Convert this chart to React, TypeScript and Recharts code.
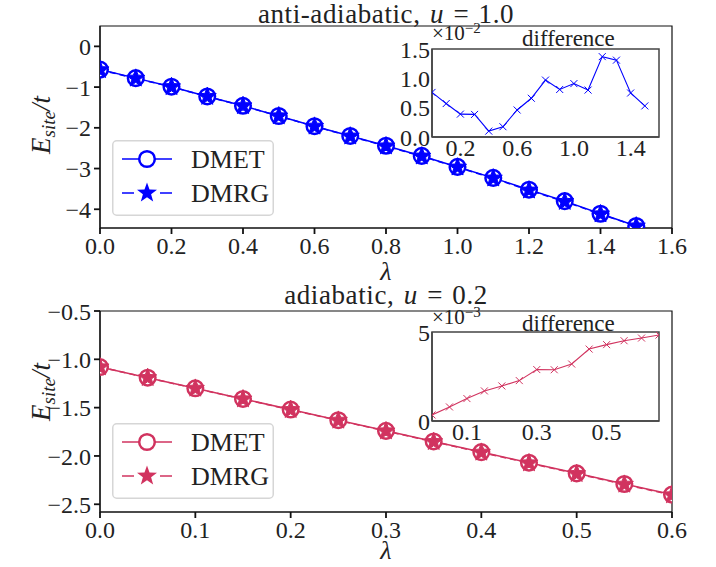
import React from "react";
import { LineChart, Line, XAxis, YAxis, Legend, ReferenceArea } from "recharts";

const FONT = "Liberation Serif, DejaVu Serif, serif";
const TXT = "#222";
const BLUE = "#0000ff";
const ROSE = "#d1335f";

// anti-adiabatic, u = 1.0
const lambdaAnti = [0, 0.1, 0.2, 0.3, 0.4, 0.5, 0.6, 0.7, 0.8, 0.9, 1.0, 1.1, 1.2, 1.3, 1.4, 1.5];
const dmetAnti = [-0.57, -0.78, -0.99, -1.23, -1.46, -1.71, -1.96, -2.2, -2.44, -2.69, -2.96, -3.23, -3.52, -3.8, -4.11, -4.41];
const dmrgAnti = [-0.578, -0.786, -0.994, -1.234, -1.461, -1.712, -1.965, -2.207, -2.45, -2.698, -2.969, -3.238, -3.534, -3.813, -4.118, -4.415];
const diffAnti = [0.76, 0.57, 0.39, 0.385, 0.1, 0.175, 0.46, 0.66, 0.97, 0.81, 0.91, 0.8, 1.37, 1.31, 0.75, 0.53]; // x1e-2

// adiabatic, u = 0.2
const lambdaAdia = [0, 0.05, 0.1, 0.15, 0.2, 0.25, 0.3, 0.35, 0.4, 0.45, 0.5, 0.55, 0.6, 0.65];
const dmetAdia = [-1.08, -1.19, -1.3, -1.41, -1.52, -1.63, -1.74, -1.85, -1.96, -2.07, -2.18, -2.29, -2.4, -2.51];
const dmrgAdia = [-1.0803, -1.1908, -1.3013, -1.4117, -1.522, -1.6323, -1.7429, -1.8529, -1.9632, -2.074, -2.1843, -2.2945, -2.4047, -2.5148];
const diffAdia = [0.34, 0.79, 1.26, 1.69, 1.97, 2.27, 2.89, 2.88, 3.2, 4.04, 4.29, 4.51, 4.66, 4.83]; // x1e-3

const xTicksAnti = [0, 0.2, 0.4, 0.6, 0.8, 1.0, 1.2, 1.4, 1.6];
const yTicksAnti = [0, -1, -2, -3, -4];
const xTicksAdia = [0, 0.1, 0.2, 0.3, 0.4, 0.5, 0.6];
const yTicksAdia = [-0.5, -1.0, -1.5, -2.0, -2.5];
const insetXTicksAnti = [0.2, 0.6, 1.0, 1.4];
const insetYTicksAnti = [0, 0.5, 1.0, 1.5];
const insetXTicksAdia = [0.1, 0.3, 0.5];
const insetYTicksAdia = [0, 5];

const rowsAnti = lambdaAnti.map((lam, i) => ({ lam, dmet: dmetAnti[i], dmrg: dmrgAnti[i], diff: diffAnti[i] }));
const rowsAdia = lambdaAdia.map((lam, i) => ({ lam, dmet: dmetAdia[i], dmrg: dmrgAdia[i], diff: diffAdia[i] }));

const minus = (s: string) => s.replace("-", "\u2212");
const fix1 = (v: number) => minus(v.toFixed(1));
const fix0 = (v: number) => minus(v.toFixed(0));

// tick label renderers (serif text, matplotlib-like)
const xTick = (fmt: (v: number) => string) => (p: any) => (
  <text x={p.x} y={p.y} dy="0.71em" textAnchor="middle" fontFamily={FONT} fontSize={24} fill={TXT}>
    {fmt(p.payload.value)}
  </text>
);
const yTick = (fmt: (v: number) => string) => (p: any) => (
  <text x={p.x} y={p.y} dy="0.36em" textAnchor="end" fontFamily={FONT} fontSize={24} fill={TXT}>
    {fmt(p.payload.value)}
  </text>
);

function starPoints(cx: number, cy: number, ro: number, ri: number) {
  const pts: string[] = [];
  for (let k = 0; k < 10; k++) {
    const r = k % 2 === 0 ? ro : ri;
    const a = -Math.PI / 2 + (k * Math.PI) / 5;
    pts.push(`${cx + r * Math.cos(a)},${cy + r * Math.sin(a)}`);
  }
  return pts.join(" ");
}

function StarDot(props: any) {
  const { cx, cy, stroke } = props;
  if (cx == null || cy == null) return null;
  return <polygon points={starPoints(cx, cy, 9.5, 4)} fill={stroke} stroke={stroke} strokeWidth={1} />;
}

function CrossDot(props: any) {
  const { cx, cy, stroke } = props;
  if (cx == null || cy == null) return null;
  const s = 3.5;
  return (
    <g stroke={stroke} strokeWidth={1}>
      <line x1={cx - s} y1={cy - s} x2={cx + s} y2={cy + s} />
      <line x1={cx - s} y1={cy + s} x2={cx + s} y2={cy - s} />
    </g>
  );
}

function LegendBox(props: any) {
  const { payload } = props;
  return (
    <svg width={162} height={76} style={{ display: "block" }}>
      <rect x={0.75} y={0.75} width={160.5} height={74.5} rx={4} fill="#fff" fillOpacity={0.85} stroke="#d6d6d6" strokeWidth={1.5} />
      {(payload || []).map((entry: any, i: number) => {
        const c = entry.color;
        const y = i === 0 ? 19 : 53;
        return (
          <g key={entry.value}>
            {i === 0 ? (
              <g>
                <line x1={10} y1={y} x2={60} y2={y} stroke={c} strokeWidth={1.5} />
                <circle cx={35} cy={y} r={7.8} fill="#fff" stroke={c} strokeWidth={2.5} />
              </g>
            ) : (
              <g>
                <line x1={10} y1={y} x2={22} y2={y} stroke={c} strokeWidth={1.5} />
                <line x1={48} y1={y} x2={60} y2={y} stroke={c} strokeWidth={1.5} />
                <polygon points={starPoints(35, y, 10.5, 4.3)} fill={c} />
              </g>
            )}
            <text x={79} y={y} dy="0.35em" fontFamily={FONT} fontSize={26} fill={TXT}>
              {entry.value}
            </text>
          </g>
        );
      })}
    </svg>
  );
}

const spine = { stroke: "#111", strokeWidth: 1.2 };
const tickLn = { stroke: "#111", strokeWidth: 1.8 };

function MainPanel(props: any) {
  const { rows, color, top, height, marginTop, xDomain, xTicks, yDomain, yTicks, yFmt, legendTop } = props;
  return (
    <div style={{ position: "absolute", left: 0, top }}>
      <LineChart width={716} height={height} data={rows} margin={{ top: marginTop, right: 44, bottom: 0, left: 0 }}>
        <XAxis
          dataKey="lam"
          type="number"
          domain={xDomain}
          ticks={xTicks}
          allowDataOverflow
          height={34}
          tickSize={6}
          tickMargin={3}
          tick={xTick(fix1)}
          axisLine={spine}
          tickLine={tickLn}
          interval={0}
        />
        <YAxis
          type="number"
          domain={yDomain}
          ticks={yTicks}
          allowDataOverflow
          width={100}
          tickSize={6}
          tickMargin={3}
          tick={yTick(yFmt)}
          axisLine={spine}
          tickLine={tickLn}
          interval={0}
        />
        <ReferenceArea
          x1={xDomain[0]}
          x2={xDomain[1]}
          y1={yDomain[0]}
          y2={yDomain[1]}
          ifOverflow="visible"
          fill="none"
          stroke="#111"
          strokeWidth={1.2}
        />
        <Line
          name="DMET"
          dataKey="dmet"
          stroke={color}
          strokeWidth={1.5}
          isAnimationActive={false}
          dot={{ r: 7.8, fill: "#fff", stroke: color, strokeWidth: 2.5 }}
        />
        <Line
          name="DMRG"
          dataKey="dmrg"
          stroke={color}
          strokeWidth={1.5}
          strokeDasharray="6 4"
          isAnimationActive={false}
          dot={(p: any) => <StarDot key={p.index} {...p} />}
        />
        <Legend
          layout="horizontal"
          verticalAlign="middle"
          align="center"
          content={<LegendBox />}
          wrapperStyle={{ left: 112, top: legendTop, width: 162, height: 76 }}
        />
      </LineChart>
    </div>
  );
}

const insetSpine = { stroke: "#444", strokeWidth: 1.5 };

function InsetPanel(props: any) {
  const { rows, color, top, height, marginTop, xDomain, xTicks, yDomain, yTicks, yFmt } = props;
  return (
    <div style={{ position: "absolute", left: 380, top }}>
      <LineChart width={290} height={height} data={rows} margin={{ top: marginTop, right: 11, bottom: 0, left: 0 }}>
        <XAxis
          dataKey="lam"
          type="number"
          domain={xDomain}
          ticks={xTicks}
          allowDataOverflow
          height={25}
          tickSize={0}
          tickMargin={2}
          tick={xTick(fix1)}
          axisLine={insetSpine}
          tickLine={false}
          interval={0}
        />
        <YAxis
          type="number"
          domain={yDomain}
          ticks={yTicks}
          allowDataOverflow
          width={52}
          tickSize={0}
          tickMargin={2}
          tick={yTick(yFmt)}
          axisLine={insetSpine}
          tickLine={false}
          interval={0}
        />
        <ReferenceArea
          x1={xDomain[0]}
          x2={xDomain[1]}
          y1={yDomain[0]}
          y2={yDomain[1]}
          ifOverflow="visible"
          fill="none"
          stroke="#444"
          strokeWidth={1.5}
        />
        <Line
          dataKey="diff"
          stroke={color}
          strokeWidth={1.1}
          isAnimationActive={false}
          dot={(p: any) => <CrossDot key={p.index} {...p} />}
        />
      </LineChart>
    </div>
  );
}

function Texts() {
  return (
    <svg width={716} height={567} style={{ position: "absolute", left: 0, top: 0, pointerEvents: "none" }} fontFamily={FONT} fill={TXT}>
      <text x={386} y={23} fontSize={27} textAnchor="middle" letterSpacing={0.6} wordSpacing={2}>
        {"anti-adiabatic, "}
        <tspan fontStyle="italic">u</tspan>
        {" = 1.0"}
      </text>
      <text x={386} y={304} fontSize={27} textAnchor="middle" letterSpacing={0.6} wordSpacing={2}>
        {"adiabatic, "}
        <tspan fontStyle="italic">u</tspan>
        {" = 0.2"}
      </text>
      {[125, 392].map((cy) => (
        <text key={cy} transform={`translate(50,${cy}) rotate(-90)`} fontSize={27} textAnchor="middle" fontStyle="italic">
          <tspan>E</tspan>
          <tspan fontSize={19} dy={5}>site</tspan>
          <tspan dy={-5}>/t</tspan>
        </text>
      ))}
      <text x={386} y={280} fontSize={26} textAnchor="middle" fontStyle="italic">λ</text>
      <text x={386} y={559} fontSize={26} textAnchor="middle" fontStyle="italic">λ</text>
      <text x={432} y={40} fontSize={21}>
        ×10<tspan fontSize={15} dy={-7}>−2</tspan>
      </text>
      <text x={522} y={46} fontSize={23}>difference</text>
      <text x={432} y={324} fontSize={21}>
        ×10<tspan fontSize={15} dy={-7}>−3</tspan>
      </text>
      <text x={522} y={331} fontSize={23}>difference</text>
    </svg>
  );
}

export default function App() {
  return (
    <div style={{ position: "absolute", left: 0, top: 0, width: 716, height: 567, overflow: "hidden", background: "#fff" }}>
      <MainPanel
        rows={rowsAnti}
        color={BLUE}
        top={0}
        height={262}
        marginTop={26}
        xDomain={[0, 1.6]}
        xTicks={xTicksAnti}
        yDomain={[-4.46, 0.5]}
        yTicks={yTicksAnti}
        yFmt={fix0}
        legendTop={140}
      />
      <MainPanel
        rows={rowsAdia}
        color={ROSE}
        top={280}
        height={266}
        marginTop={31}
        xDomain={[0, 0.6]}
        xTicks={xTicksAdia}
        yDomain={[-2.58, -0.5]}
        yTicks={yTicksAdia}
        yFmt={fix1}
        legendTop={143}
      />
      <InsetPanel
        rows={rowsAnti}
        color={BLUE}
        top={25}
        height={137}
        marginTop={24}
        xDomain={[0, 1.6]}
        xTicks={insetXTicksAnti}
        yDomain={[0, 1.5]}
        yTicks={insetYTicksAnti}
        yFmt={fix1}
      />
      <InsetPanel
        rows={rowsAdia}
        color={ROSE}
        top={310}
        height={136}
        marginTop={22}
        xDomain={[0, 0.65]}
        xTicks={insetXTicksAdia}
        yDomain={[0, 5]}
        yTicks={insetYTicksAdia}
        yFmt={fix0}
      />
      <Texts />
    </div>
  );
}
